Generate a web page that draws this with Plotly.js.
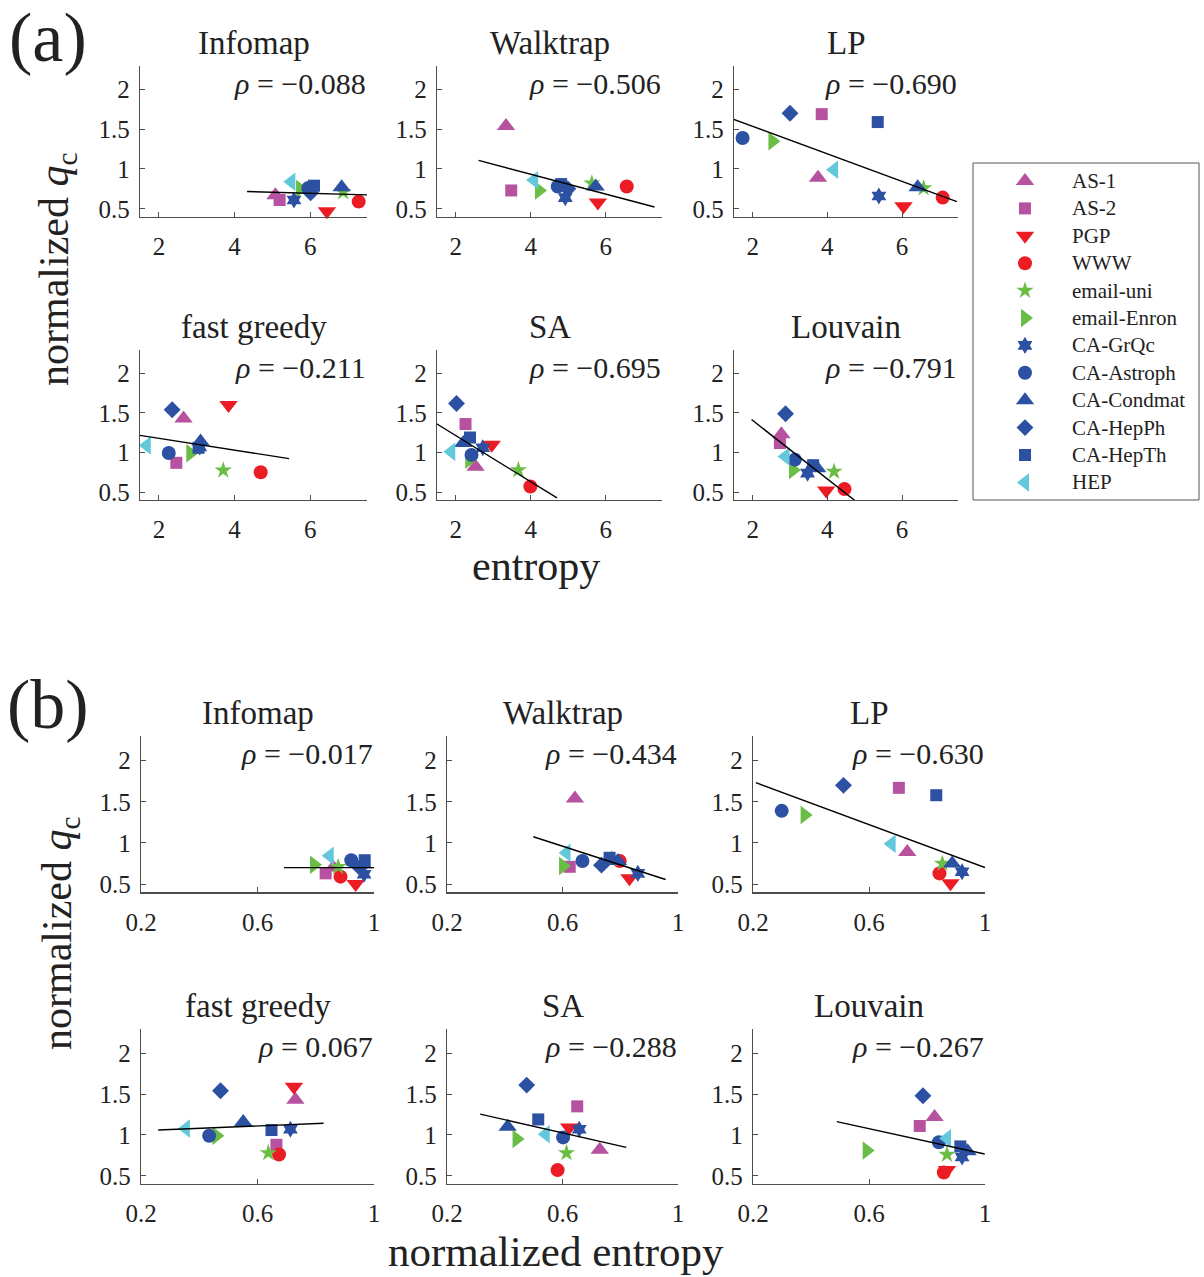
<!DOCTYPE html>
<html><head><meta charset="utf-8">
<script src="https://cdn.plot.ly/plotly-3.0.1.min.js"></script>
<style>body{margin:0;padding:0;background:#fff}#chart{width:1204px;height:1277px}</style>
</head><body><div id="chart"></div>
<script>
// ---------- DATA ----------
const seriesNames = ["AS-1","AS-2","PGP","WWW","email-uni","email-Enron","CA-GrQc","CA-Astroph","CA-Condmat","CA-HepPh","CA-HepTh","HEP"];
const panelTitles = ["Infomap","Walktrap","LP","fast greedy","SA","Louvain","Infomap","Walktrap","LP","fast greedy","SA","Louvain"];
const rhoValues = ["\u22120.088","\u22120.506","\u22120.690","\u22120.211","\u22120.695","\u22120.791","\u22120.017","\u22120.434","\u22120.630","0.067","\u22120.288","\u22120.267"];

// (a) entropy
const xA_Infomap   = [5.08,5.19,6.44,7.28,6.87,5.73,5.57,5.95,6.83,6.01,6.10,5.50];
const yA_Infomap   = [0.67,0.61,0.47,0.59,0.71,0.75,0.61,0.76,0.77,0.70,0.79,0.84];
const xA_Walktrap  = [3.34,3.48,5.79,6.56,5.63,4.22,4.92,4.72,5.73,4.99,4.81,4.09];
const yA_Walktrap  = [1.54,0.73,0.58,0.78,0.82,0.73,0.64,0.78,0.78,0.75,0.81,0.86];
const xA_LP        = [3.75,3.85,6.04,7.09,6.58,2.53,5.38,1.73,6.42,3.00,5.35,4.18];
const yA_LP        = [0.89,1.69,0.53,0.64,0.76,1.35,0.66,1.39,0.77,1.70,1.59,0.99];
const xA_Fast      = [2.65,2.46,3.84,4.69,3.70,2.83,3.08,2.26,3.10,2.35,3.05,1.68];
const yA_Fast      = [1.43,0.87,1.60,0.75,0.775,0.99,1.07,0.995,1.14,1.54,1.06,1.09];
const xA_SA        = [2.53,2.26,2.96,3.99,3.67,2.36,2.72,2.42,2.20,2.02,2.38,1.88];
const yA_SA        = [0.82,1.36,1.10,0.57,0.78,0.91,1.06,0.97,1.12,1.62,1.19,1.01];
const xA_Louvain   = [2.77,2.73,3.97,4.46,4.18,3.08,3.47,3.13,3.73,2.88,3.62,2.88];
const yA_Louvain   = [1.23,1.12,0.52,0.54,0.76,0.78,0.74,0.91,0.80,1.49,0.84,0.95];
// (b) normalized entropy
const xB_Infomap   = [0.860,0.834,0.937,0.885,0.877,0.794,0.966,0.922,0.962,0.951,0.968,0.848];
const yB_Infomap   = [0.70,0.63,0.50,0.59,0.71,0.735,0.62,0.79,0.74,0.70,0.79,0.845];
const xB_Walktrap  = [0.643,0.625,0.832,0.798,0.770,0.602,0.861,0.669,0.792,0.735,0.763,0.614];
const yB_Walktrap  = [1.54,0.71,0.57,0.78,0.80,0.72,0.63,0.78,0.78,0.73,0.82,0.88];
const xB_LP        = [0.732,0.703,0.881,0.843,0.853,0.378,0.921,0.299,0.887,0.512,0.832,0.678];
const yB_LP        = [0.89,1.67,0.51,0.63,0.75,1.34,0.65,1.39,0.75,1.70,1.58,0.99];
const xB_Fast      = [0.730,0.665,0.725,0.674,0.637,0.459,0.713,0.434,0.551,0.473,0.648,0.354];
const yB_Fast      = [1.43,0.88,1.59,0.76,0.78,0.99,1.07,0.99,1.16,1.54,1.06,1.08];
const xB_SA        = [0.729,0.651,0.623,0.583,0.614,0.441,0.658,0.602,0.410,0.476,0.516,0.542];
const yB_SA        = [0.82,1.35,1.09,0.57,0.78,0.95,1.07,0.97,1.10,1.61,1.19,1.01];
const xB_Louvain   = [0.826,0.775,0.869,0.858,0.869,0.592,0.921,0.841,0.940,0.786,0.915,0.869];
const yB_Louvain   = [1.22,1.11,0.57,0.54,0.76,0.81,0.73,0.91,0.80,1.48,0.86,0.96];

// fitted lines: [x0, x1] and [y0, y1]
const fitX = [[4.33,7.5],[2.61,7.3],[1.48,7.47],[1.49,5.44],[1.48,4.70],[1.97,4.73],
              [0.691,1.0],[0.499,0.957],[0.21,1.0],[0.259,0.827],[0.315,0.821],[0.489,0.999]];
const fitY = [[0.717,0.675],[1.108,0.522],[1.626,0.59],[1.218,0.923],[1.366,0.426],[1.417,0.396],
              [0.70,0.70],[1.075,0.556],[1.733,0.70],[1.061,1.143],[1.255,0.848],[1.163,0.767]];

const xTicksA = [2,4,6], xTickTextA = ["2","4","6"];
const xTicksB = [0.2,0.6,1], xTickTextB = ["0.2","0.6","1"];
const yTicks = [0.5,1,1.5,2], yTickText = ["0.5","1","1.5","2"];

// ---------- STYLE ----------
const symbols = ["triangle-up","square","triangle-down","circle","star","triangle-right","hexagram","circle","triangle-up","diamond","square","triangle-left"];
const MAG="rgb(183,82,160)", RED="rgb(236,28,36)", GRN="rgb(106,189,69)", BLU="rgb(44,80,162)", CYN="rgb(98,200,218)";
const colors = [MAG,MAG,RED,RED,GRN,GRN,BLU,BLU,BLU,BLU,BLU,CYN];
const sizes = [16,12,16,14,13,16,13,14,16,13,12,16];

const panelX = [xA_Infomap,xA_Walktrap,xA_LP,xA_Fast,xA_SA,xA_Louvain,xB_Infomap,xB_Walktrap,xB_LP,xB_Fast,xB_SA,xB_Louvain];
const panelY = [yA_Infomap,yA_Walktrap,yA_LP,yA_Fast,yA_SA,yA_Louvain,yB_Infomap,yB_Walktrap,yB_LP,yB_Fast,yB_SA,yB_Louvain];

const W=1204, H=1277;
const fx = p => p/W, fy = p => 1 - p/H;
const FONT = "Liberation Serif, Times New Roman, serif";
const AXC = "#4d4d4d";

// panel boxes in pixels [left, right, top, bottom]
const boxes = [
 [140,367,65.6,216.7],[437,662,65.6,216.7],[734,958,65.6,216.7],
 [140,367,349.7,500],[437,662,349.7,500],[734,958,349.7,500],
 [141,374,736,892.3],[447,678,736,892.3],[753,985,736,892.3],
 [141,374,1028.7,1184],[447,678,1028.7,1184],[753,985,1028.7,1184]];

const traces = [];
const layout = {
  width: W, height: H, margin:{l:0,r:0,t:0,b:0},
  paper_bgcolor:"#fff", plot_bgcolor:"rgba(0,0,0,0)",
  showlegend:false, font:{family:FONT, color:"#222"},
  annotations:[], shapes:[]
};

for (let p=0; p<12; p++) {
  const id = p===0 ? "" : String(p+1);
  const b = boxes[p];
  const isA = p < 6;
  layout["xaxis"+id] = {
    domain:[fx(b[0]), fx(b[1])], anchor:"y"+id,
    range: isA ? [1.5,7.5] : [0.2,1.0],
    tickvals: isA ? xTicksA : xTicksB, ticktext: isA ? xTickTextA : xTickTextB,
    ticks:"inside", ticklen:5, tickcolor:AXC, tickwidth:1,
    showline:true, linecolor:AXC, linewidth:1.3, showgrid:false, zeroline:false,
    tickfont:{family:FONT, size:25, color:"#222"}, ticklabelstandoff:7, fixedrange:true
  };
  layout["yaxis"+id] = {
    domain:[fy(b[3]), fy(b[2])], anchor:"x"+id,
    range:[0.4,2.3], tickvals:yTicks, ticktext:yTickText,
    ticks:"inside", ticklen:5, tickcolor:AXC, tickwidth:1,
    showline:true, linecolor:AXC, linewidth:1.3, showgrid:false, zeroline:false,
    tickfont:{family:FONT, size:25, color:"#222"}, ticklabelstandoff:4, fixedrange:true
  };
  for (let s=0; s<seriesNames.length; s++) {
    traces.push({
      type:"scatter", mode:"markers", name:seriesNames[s],
      x:[panelX[p][s]], y:[panelY[p][s]], xaxis:"x"+id, yaxis:"y"+id,
      marker:{symbol:symbols[s], color:colors[s], size:sizes[s], line:{width:0}},
      cliponaxis:false, hoverinfo:"skip"
    });
  }
  traces.push({type:"scatter", mode:"lines", x:fitX[p], y:fitY[p], xaxis:"x"+id, yaxis:"y"+id,
    line:{color:"#000", width:1.4}, hoverinfo:"skip"});
  layout.annotations.push({xref:"paper", yref:"paper", x:fx((b[0]+b[1])/2), y:fy(b[2]-23),
    text:panelTitles[p], showarrow:false, xanchor:"center", yanchor:"middle",
    font:{family:FONT, size:33, color:"#222"}});
  layout.annotations.push({xref:"paper", yref:"paper", x:fx(b[1]+1), y:fy(b[2]+18),
    text:"<i>\u03c1</i> = "+rhoValues[p], showarrow:false, xanchor:"right", yanchor:"middle",
    font:{family:FONT, size:30, color:"#222"}});
}

// legend as its own axis
layout.xaxis13 = {domain:[fx(973), fx(1199)], range:[0,226], visible:false, fixedrange:true, anchor:"y13"};
layout.yaxis13 = {domain:[fy(500), fy(163)], range:[337,0], visible:false, fixedrange:true, anchor:"x13"};
const legY = seriesNames.map((_,i)=>18+i*27.4);
for (let s=0; s<seriesNames.length; s++) {
  traces.push({type:"scatter", mode:"markers", x:[52], y:[legY[s]], xaxis:"x13", yaxis:"y13",
    marker:{symbol:symbols[s], color:colors[s], size:sizes[s], line:{width:0}}, hoverinfo:"skip"});
  layout.annotations.push({xref:"x13", yref:"y13", x:97, y:legY[s], text:seriesNames[s],
    showarrow:false, xanchor:"left", yanchor:"middle", font:{family:FONT, size:21, color:"#222"}});
}
layout.shapes.push({type:"rect", xref:"paper", yref:"paper", x0:fx(973), x1:fx(1199), y0:fy(500), y1:fy(163),
  line:{color:"#555", width:1}});

// big labels
layout.annotations.push(
  {xref:"paper",yref:"paper",x:fx(48),y:fy(38),text:"(a)",showarrow:false,xanchor:"center",yanchor:"middle",font:{family:FONT,size:70,color:"#222"}},
  {xref:"paper",yref:"paper",x:fx(48),y:fy(704),text:"(b)",showarrow:false,xanchor:"center",yanchor:"middle",font:{family:FONT,size:70,color:"#222"}},
  {xref:"paper",yref:"paper",x:fx(57),y:fy(270),text:"normalized <i>q</i><sub>c</sub>",textangle:-90,showarrow:false,xanchor:"center",yanchor:"middle",font:{family:FONT,size:42,color:"#222"}},
  {xref:"paper",yref:"paper",x:fx(60),y:fy(934),text:"normalized <i>q</i><sub>c</sub>",textangle:-90,showarrow:false,xanchor:"center",yanchor:"middle",font:{family:FONT,size:42,color:"#222"}},
  {xref:"paper",yref:"paper",x:fx(536),y:fy(566),text:"entropy",showarrow:false,xanchor:"center",yanchor:"middle",font:{family:FONT,size:42,color:"#222"}},
  {xref:"paper",yref:"paper",x:fx(556),y:fy(1251),text:"normalized entropy",showarrow:false,xanchor:"center",yanchor:"middle",font:{family:FONT,size:43,color:"#222"}}
);

Plotly.newPlot("chart", traces, layout, {staticPlot:true, displayModeBar:false});
</script>
</body></html>
